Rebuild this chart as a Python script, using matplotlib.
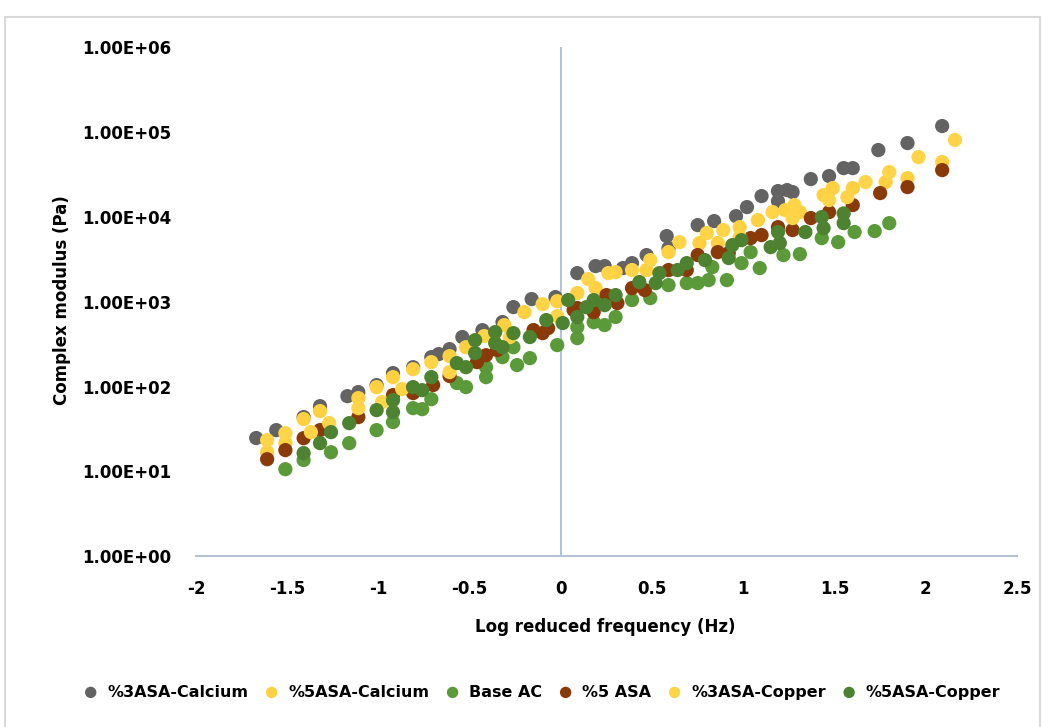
import matplotlib
matplotlib.use("Agg")
import matplotlib.pyplot as plt
from matplotlib.patches import Rectangle

# --- data (x: log reduced frequency, y: complex modulus in Pa) ---
x_3asa_ca = [-1.67, -1.56, -1.41, -1.32, -1.17, -1.11, -1.01, -0.92, -0.81, -0.71, -0.67,
             -0.61, -0.54, -0.43, -0.32, -0.26, -0.16, -0.03, 0.09, 0.19, 0.24, 0.34, 0.39,
             0.47, 0.58, 0.59, 0.75, 0.84, 0.96, 1.02, 1.10, 1.19, 1.19, 1.24, 1.27, 1.37,
             1.47, 1.55, 1.60, 1.74, 1.90, 2.09]
y_3asa_ca = [24.7, 30.6, 43.6, 58.7, 77, 86, 104, 144, 169, 222, 241,
             276, 383, 462, 575, 864, 1074, 1133, 2174, 2630, 2630, 2490, 2852,
             3545, 5940, 4285, 8000, 8920, 10200, 13050, 17600, 20150, 15350, 20700, 19600, 27900,
             30300, 37600, 37600, 61400, 74200, 117800]

x_5asa_ca = [-1.61, -1.51, -1.41, -1.32, -1.11, -1.01, -0.92, -0.81, -0.61, -0.52, -0.31,
             -0.20, -0.02, 0.09, 0.19, 0.30, 0.47, 0.59, 0.76, 0.86, 0.98, 1.08, 1.23, 1.31,
             1.44, 1.49, 1.60, 1.78, 1.90, 2.09]
y_5asa_ca = [16.8, 21.5, 41.3, 51.3, 73.0, 98.4, 129, 160, 228, 291, 530,
             753, 1016, 1263, 1447, 2234, 2360, 3844, 4914, 4914, 7570, 9170, 12030, 11390,
             18060, 21850, 21850, 25720, 28640, 44300]

x_base = [-1.51, -1.41, -1.26, -1.16, -1.01, -0.92, -0.81, -0.76, -0.71, -0.57, -0.52,
          -0.41, -0.41, -0.32, -0.26, -0.24, -0.17, -0.02, 0.09, 0.09, 0.18, 0.24, 0.30,
          0.39, 0.49, 0.59, 0.69, 0.75, 0.81, 0.83, 0.91, 0.99, 1.04, 1.09, 1.22, 1.31,
          1.43, 1.52, 1.61, 1.72, 1.80]
y_base = [10.6, 13.6, 16.8, 21.5, 30.6, 38.1, 55.6, 54.1, 70.9, 110, 98.4,
          169, 129, 222, 291, 179, 216, 308, 502, 372, 574, 530, 660,
          1045, 1103, 1569, 1657, 1657, 1798, 2558, 1798, 2850, 3844, 2490, 3545, 3640,
          5620, 5040, 6630, 6800, 8440]

x_5asa = [-1.61, -1.51, -1.41, -1.32, -1.11, -0.92, -0.81, -0.70, -0.61, -0.46, -0.41,
          -0.35, -0.15, -0.10, -0.07, 0.07, 0.09, 0.18, 0.25, 0.31, 0.39, 0.46, 0.59,
          0.69, 0.75, 0.86, 0.92, 1.04, 1.10, 1.19, 1.27, 1.37, 1.47, 1.60, 1.75, 1.90, 2.09]
y_5asa = [13.9, 17.8, 24.6, 30.6, 43.6, 79.2, 83.6, 104, 133, 194, 234,
          269, 463, 426, 488, 797, 842, 753, 1196, 963, 1447, 1370, 2360,
          2360, 3545, 3844, 3740, 5620, 6100, 7570, 6990, 9680, 11390, 13780, 19090, 22460, 35640]

x_3asa_cu = [-1.61, -1.51, -1.37, -1.27, -1.11, -0.98, -0.87, -0.71, -0.61, -0.42, -0.28,
             -0.10, -0.02, 0.15, 0.26, 0.39, 0.49, 0.65, 0.80, 0.89, 0.98, 1.16, 1.28, 1.27,
             1.47, 1.57, 1.67, 1.80, 1.96, 2.16]
y_3asa_cu = [23.3, 28.2, 29.0, 37.0, 55.6, 65.5, 93.2, 194, 148, 393, 383,
             936, 676, 1848, 2173, 2360, 3094, 5040, 6440, 6990, 5780, 11390, 13780, 9680,
             15780, 17130, 25720, 33780, 50700, 80700]

x_5asa_cu = [-1.41, -1.32, -1.26, -1.16, -1.01, -0.92, -0.92, -0.81, -0.76, -0.71, -0.57,
             -0.52, -0.47, -0.47, -0.36, -0.36, -0.32, -0.26, -0.17, -0.08, 0.01, 0.04, 0.09,
             0.14, 0.18, 0.24, 0.30, 0.43, 0.52, 0.54, 0.64, 0.69, 0.79, 0.92, 0.94, 0.99,
             1.15, 1.19, 1.20, 1.34, 1.43, 1.44, 1.55, 1.55]
y_5asa_cu = [16.4, 21.5, 29.0, 37.0, 52.7, 69.1, 49.9, 98.4, 90.6, 129, 189,
             169, 352, 248, 438, 325, 291, 426, 383, 607, 560, 1045, 660,
             862, 1045, 911, 1196, 1703, 1657, 2173, 2360, 2850, 3094, 3270, 4650, 5320,
             4400, 6630, 4914, 6630, 9950, 7380, 10980, 8440]

series_names = ["%3ASA-Calcium", "%5ASA-Calcium", "Base AC", "%5 ASA", "%3ASA-Copper", "%5ASA-Copper"]
series_x = [x_3asa_ca, x_5asa_ca, x_base, x_5asa, x_3asa_cu, x_5asa_cu]
series_y = [y_3asa_ca, y_5asa_ca, y_base, y_5asa, y_3asa_cu, y_5asa_cu]
series_colors = ["#636363", "#FFD03F", "#5B9A38", "#8A3A08", "#FFD547", "#4C8230"]

x_ticks = [-2, -1.5, -1, -0.5, 0, 0.5, 1, 1.5, 2, 2.5]
y_ticks = [1e0, 1e1, 1e2, 1e3, 1e4, 1e5, 1e6]

axis_color = "#B4C2D6"

fig = plt.figure(figsize=(10.48, 7.27), dpi=100)
fig.patches.append(Rectangle((5 / 1048, -0.05), 1035 / 1048, 1.05 - 17 / 727,
                             transform=fig.transFigure, fill=False,
                             edgecolor="#D9D9D9", linewidth=1.5))

ax = fig.add_axes([0.187, 0.235, 0.7834, 0.700])
for name, xs, ys, c in zip(series_names, series_x, series_y, series_colors):
    ax.scatter(xs, ys, s=105, color=c, edgecolors="none", label=name, zorder=3)

ax.set_yscale("log")
ax.set_xlim(-2, 2.5)
ax.set_ylim(1, 1e6)
ax.set_xticks(x_ticks)
ax.set_xticklabels([f"{t:g}" for t in x_ticks])
ax.set_yticks(y_ticks)
ax.set_yticklabels([f"{t:.2E}" for t in y_ticks])
ax.minorticks_off()

for side in ["top", "right", "left"]:
    ax.spines[side].set_visible(False)
ax.spines["bottom"].set_color(axis_color)
ax.spines["bottom"].set_linewidth(1.5)
ax.axvline(0, color=axis_color, linewidth=1.5, zorder=1)

ax.tick_params(axis="both", length=0, labelsize=12)
ax.tick_params(axis="y", pad=18)
ax.tick_params(axis="x", pad=17)
for lab in ax.get_xticklabels() + ax.get_yticklabels():
    lab.set_fontweight("bold")

fig.text(0.578, 0.137, "Log reduced frequency (Hz)", ha="center", va="center",
         fontsize=12, fontweight="bold")
fig.text(0.059, 0.587, "Complex modulus (Pa)", ha="center", va="center",
         rotation=90, fontsize=12, fontweight="bold")

fig.legend(loc="center", bbox_to_anchor=(0.513, 0.048), ncol=6, frameon=False,
           prop={"size": 11.5, "weight": "bold"}, handletextpad=0.05,
           columnspacing=0.45, markerscale=0.8)

fig.savefig("out.png", dpi=100)
